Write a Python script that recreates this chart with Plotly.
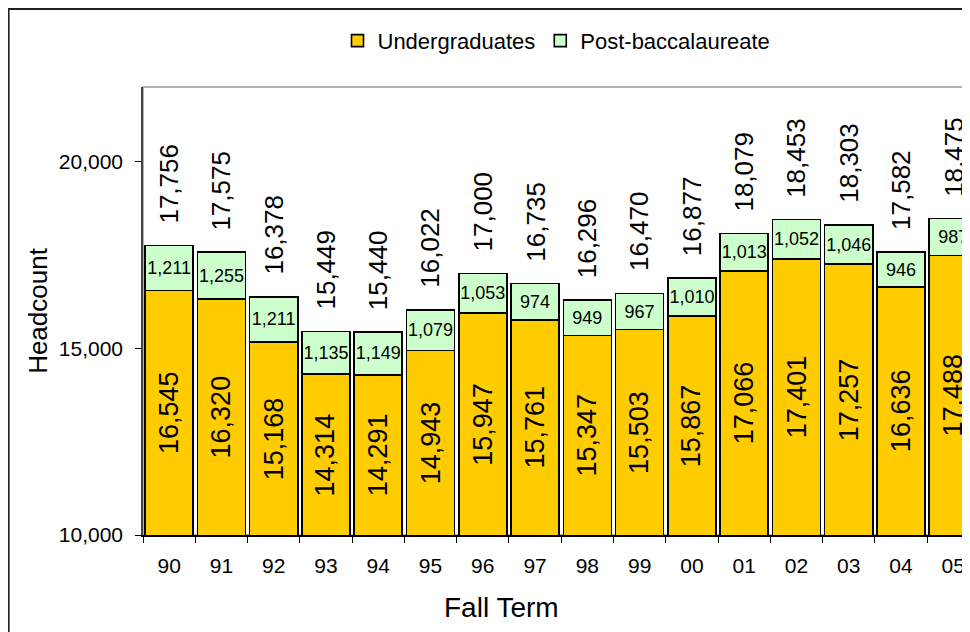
import plotly.graph_objects as go

terms = ["90", "91", "92", "93", "94", "95", "96", "97", "98", "99",
         "00", "01", "02", "03", "04", "05"]
undergrad = [16545, 16320, 15168, 14314, 14291, 14943, 15947, 15761,
             15347, 15503, 15867, 17066, 17401, 17257, 16636, 17488]
postbacc = [1211, 1255, 1211, 1135, 1149, 1079, 1053, 974,
            949, 967, 1010, 1013, 1052, 1046, 946, 987]
totals = [17756, 17575, 16378, 15449, 15440, 16022, 17000, 16735,
          16296, 16470, 16877, 18079, 18453, 18303, 17582, 18475]

Y_MIN, Y_MAX = 10000, 22000
FONT = "Liberation Sans, Arial, sans-serif"

fig = go.Figure()
fig.add_trace(go.Bar(
    x=terms, y=undergrad, name="Undergraduates",
    marker=dict(color="#FFCC00", line=dict(color="black", width=1.6)),
))
fig.add_trace(go.Bar(
    x=terms, y=postbacc, name="Post-baccalaureate",
    marker=dict(color="#CCFFCC", line=dict(color="black", width=1.6)),
    text=[f"{v:,}" for v in postbacc], textposition="inside",
    insidetextanchor="middle", textangle=0, constraintext="none",
    textfont=dict(family=FONT, size=18, color="black"),
))

annotations = []
for i, (u, tot) in enumerate(zip(undergrad, totals)):
    annotations.append(dict(
        x=i, y=(Y_MIN + u) / 2, xref="x", yref="y", text=f"{u:,}",
        textangle=-90, showarrow=False, xanchor="center", yanchor="middle",
        font=dict(family=FONT, size=27, color="black"),
    ))
    annotations.append(dict(
        x=i, y=tot, xref="x", yref="y", text=f"{tot:,}",
        textangle=-90, showarrow=False, xanchor="center", yanchor="bottom",
        yshift=20, font=dict(family=FONT, size=26, color="black"),
    ))

annotations.append(dict(
    x=0.434, y=-0.162, xref="paper", yref="paper",
    text="Fall Term", showarrow=False, xanchor="center", yanchor="middle",
    font=dict(family=FONT, size=28, color="black"),
))

fig.update_layout(
    width=962, height=624,
    margin=dict(l=135, r=0, t=79, b=97, autoexpand=False),
    paper_bgcolor="white", plot_bgcolor="white",
    barmode="stack", bargap=0.08,
    font=dict(family=FONT, color="black"),
    showlegend=True,
    legend=dict(orientation="h", x=0.5, xanchor="center", y=1.103, yanchor="middle",
                font=dict(family=FONT, size=22, color="black"), itemwidth=30,
                traceorder="normal", bgcolor="rgba(0,0,0,0)"),
    annotations=annotations,
    shapes=[
        dict(type="rect", xref="paper", yref="paper", x0=0, x1=1.05, y0=0, y1=1,
             line=dict(color="#999999", width=1.5), fillcolor="rgba(0,0,0,0)", layer="below"),
        dict(type="rect", xref="paper", yref="paper", x0=-0.1625, x1=1.04, y0=-0.25, y1=1.174,
             line=dict(color="#222222", width=2), fillcolor="rgba(0,0,0,0)"),
    ],
)
fig.update_xaxes(
    type="category", range=[-0.5, 15.32], tickson="boundaries", automargin=False,
    ticks="outside", ticklen=6, tickcolor="black", showline=True,
    linecolor="black", linewidth=1.5, showgrid=False,
    tickfont=dict(family=FONT, size=21, color="black"), ticklabelstandoff=11,
)
fig.update_yaxes(
    range=[Y_MIN, Y_MAX], tickvals=[10000, 15000, 20000], tickformat=",d",
    automargin=False,
    ticks="outside", ticklen=6, tickcolor="black", showline=True,
    linecolor="#444444", linewidth=1.5, showgrid=False, zeroline=False,
    tickfont=dict(family=FONT, size=21, color="black"), ticklabelstandoff=8,
    title=dict(text="Headcount", font=dict(family=FONT, size=26, color="black"), standoff=4),
)

fig.write_html("out.html")
